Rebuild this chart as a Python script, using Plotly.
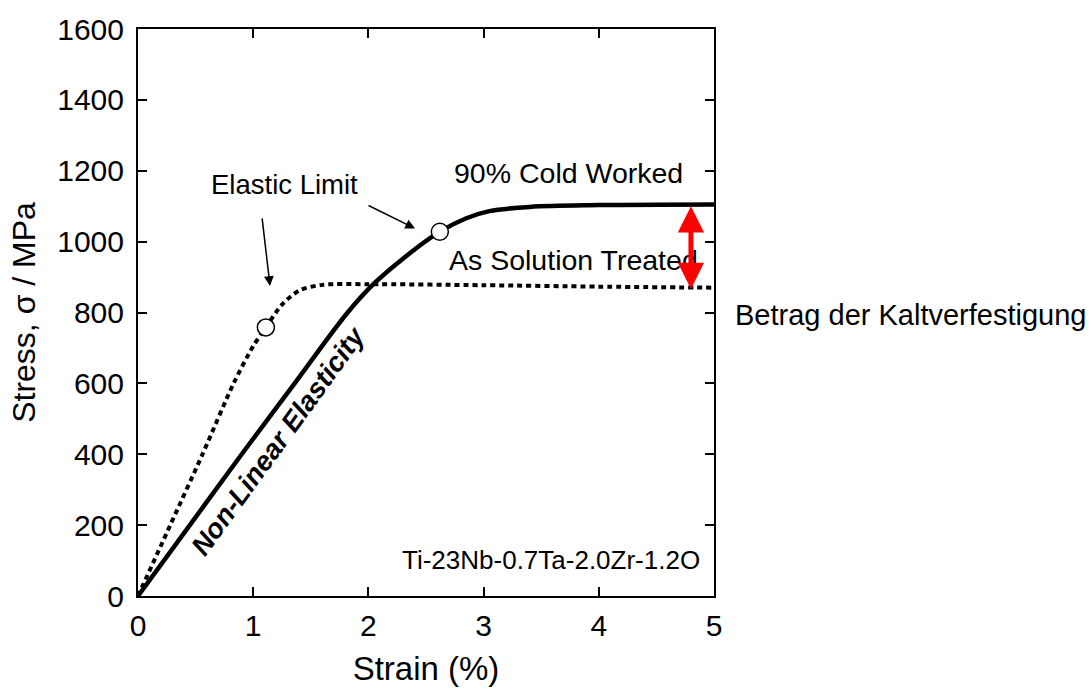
import plotly.graph_objects as go

# Stress-strain data for Ti-23Nb-0.7Ta-2.0Zr-1.2O
cold_worked_strain = [0, 0.45, 0.9, 1.36, 1.82, 2.05, 2.3, 2.62, 2.85, 3.05, 3.4, 4.0, 5.0]
cold_worked_stress = [0, 200, 400, 600, 800, 882, 952, 1028, 1066, 1086, 1098, 1103, 1105]

solution_strain = [0, 0.28, 0.56, 0.83, 1.0, 1.11, 1.25, 1.4, 1.6, 2.0, 3.0, 4.0, 5.0]
solution_stress = [0, 200, 400, 600, 705, 758, 822, 862, 878, 880, 877, 873, 870]

# Elastic limit points (solution treated, cold worked)
limit_strain = [1.11, 2.62]
limit_stress = [758, 1028]

x_ticks = [0, 1, 2, 3, 4, 5]
y_ticks = [0, 200, 400, 600, 800, 1000, 1200, 1400, 1600]

# Work-hardening gap marker
gap_strain = 4.8
gap_top = 1104
gap_bottom = 866

FONT = "Liberation Sans, Arial, Helvetica, sans-serif"

fig = go.Figure()

fig.add_trace(go.Scatter(
    x=solution_strain, y=solution_stress, mode="lines",
    line=dict(color="black", width=4, dash="5px,4px", shape="spline", smoothing=0.8),
    hoverinfo="skip", showlegend=False,
))
fig.add_trace(go.Scatter(
    x=cold_worked_strain, y=cold_worked_stress, mode="lines",
    line=dict(color="black", width=4.5, shape="spline", smoothing=1.0),
    hoverinfo="skip", showlegend=False,
))
fig.add_trace(go.Scatter(
    x=limit_strain, y=limit_stress, mode="markers",
    marker=dict(symbol="circle", size=17, color="white", line=dict(color="black", width=1.5)),
    hoverinfo="skip", showlegend=False,
))

annotations = [
    dict(x=1.27, y=1160, text="Elastic Limit", showarrow=False, font=dict(size=27.5)),
    # arrows from the label to each elastic limit
    dict(x=1.146, y=875, ax=1.076, ay=1070, axref="x", ayref="y", text="",
         showarrow=True, arrowhead=2, arrowsize=1.3, arrowwidth=1.5, arrowcolor="black"),
    dict(x=2.405, y=1037, ax=1.988, ay=1104, axref="x", ayref="y", text="",
         showarrow=True, arrowhead=2, arrowsize=1.3, arrowwidth=1.5, arrowcolor="black"),
    dict(x=3.74, y=1193, text="90% Cold Worked", showarrow=False, font=dict(size=28.5)),
    dict(x=3.78, y=948, text="As Solution Treated", showarrow=False, font=dict(size=28.5)),
    dict(x=1.215, y=440, text="<b><i>Non-Linear Elasticity</i></b>", showarrow=False,
         textangle=-54, font=dict(size=27.5)),
    dict(x=3.585, y=103, text="Ti-23Nb-0.7Ta-2.0Zr-1.2O", showarrow=False, font=dict(size=26)),
    # double-headed red arrow between the two plateaus
    dict(x=gap_strain, y=gap_bottom, ax=gap_strain, ay=gap_top, axref="x", ayref="y", text="",
         showarrow=True, arrowhead=2, arrowside="end+start", arrowsize=1.05, arrowwidth=5,
         arrowcolor="red"),
    dict(x=1.033, y=794, xref="paper", yref="y", xanchor="left", text="Betrag der Kaltverfestigung",
         showarrow=False, font=dict(size=29)),
]

fig.update_layout(
    width=1091, height=693,
    margin=dict(l=138, r=377, t=25, b=94),
    paper_bgcolor="white", plot_bgcolor="white",
    font=dict(family=FONT, color="black", size=27),
    annotations=annotations,
)

axis_common = dict(
    showgrid=False, zeroline=False, showline=True, linecolor="black", linewidth=2,
    mirror="ticks", ticks="inside", ticklen=9, tickwidth=1.5, tickcolor="black",
    tickfont=dict(size=30, family=FONT),
)
fig.update_xaxes(range=[0, 5], tickvals=x_ticks, ticklabelstandoff=2,
                 title=dict(text="Strain (%)", font=dict(size=33), standoff=16),
                 **axis_common)
fig.update_yaxes(range=[0, 1600], tickvals=y_ticks, ticklabelstandoff=6,
                 title=dict(text="Stress, σ / MPa", font=dict(size=32), standoff=12),
                 **axis_common)

fig.write_html("out.html")
